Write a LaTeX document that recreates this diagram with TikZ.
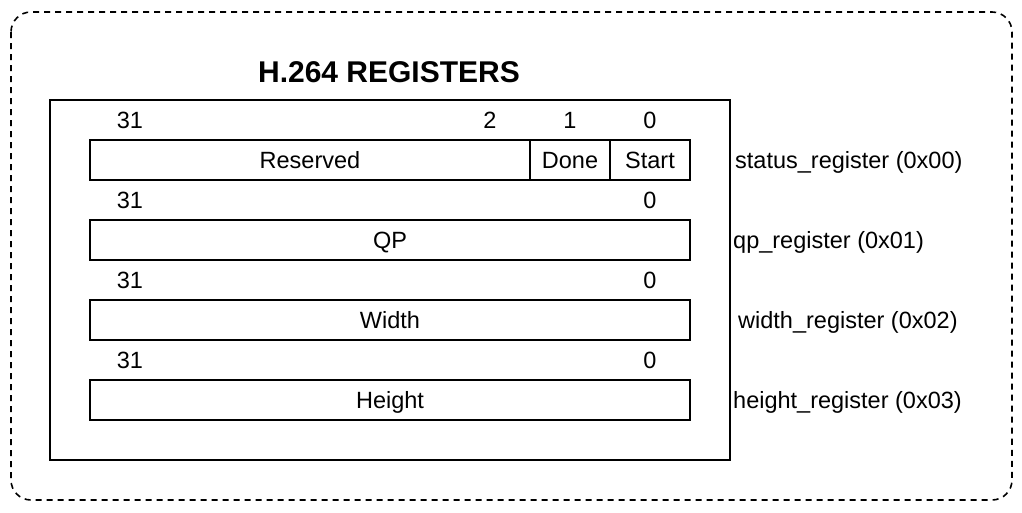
\documentclass[tikz,border=0pt]{standalone}
\usepackage{fontspec}
\setmainfont{Liberation Sans}
\begin{document}
\begin{tikzpicture}[x=1pt,y=-1pt,
  lbl/.style={inner sep=0pt, text height=17pt, text depth=0pt, font=\fontsize{23.5}{27}\selectfont},
  field/.style={draw, line width=1.5pt, inner sep=0pt, text height=17pt, text depth=0pt, minimum height=40pt, font=\fontsize{23.5}{27}\selectfont},
  frame/.style={draw, line width=1.5pt}
]
\useasboundingbox (0,0) rectangle (1022,512);
\draw[line width=1.6pt, dash pattern=on 6pt off 5pt, rounded corners=20pt] (11,12) rectangle (1012,500);
\node[frame, minimum width=680pt, minimum height=360pt, inner sep=0pt] (outer) at (390,280) {};
\node[inner sep=0pt, font=\bfseries\fontsize{30}{34}\selectfont] (title) at (389,72) {H.264 REGISTERS};
% status register
\node[field, minimum width=440pt] (res) at (310,160) {Reserved};
\node[field, minimum width=80pt] (done) at (570,160) {Done};
\node[field, minimum width=80pt] (start) at (650,160) {Start};
\node[lbl] (b31a) at (130,120) {31};
\node[lbl] (b2a) at (490,120) {2};
\node[lbl] (b1a) at (570,120) {1};
\node[lbl] (b0a) at (650,120) {0};
\node[lbl, anchor=west] (n0) at (735,160) {status\_register (0x00)};
% qp
\node[field, minimum width=600pt] (qp) at (390,240) {QP};
\node[lbl] (b31b) at (130,200) {31};
\node[lbl] (b0b) at (650,200) {0};
\node[lbl, anchor=west] (n1) at (733,240) {qp\_register (0x01)};
% width
\node[field, minimum width=600pt] (wd) at (390,320) {Width};
\node[lbl] (b31c) at (130,280) {31};
\node[lbl] (b0c) at (650,280) {0};
\node[lbl, anchor=west] (n2) at (738,320) {width\_register (0x02)};
% height
\node[field, minimum width=600pt] (ht) at (390,400) {Height};
\node[lbl] (b31d) at (130,360) {31};
\node[lbl] (b0d) at (650,360) {0};
\node[lbl, anchor=west] (n3) at (733,400) {height\_register (0x03)};
\end{tikzpicture}
\end{document}
